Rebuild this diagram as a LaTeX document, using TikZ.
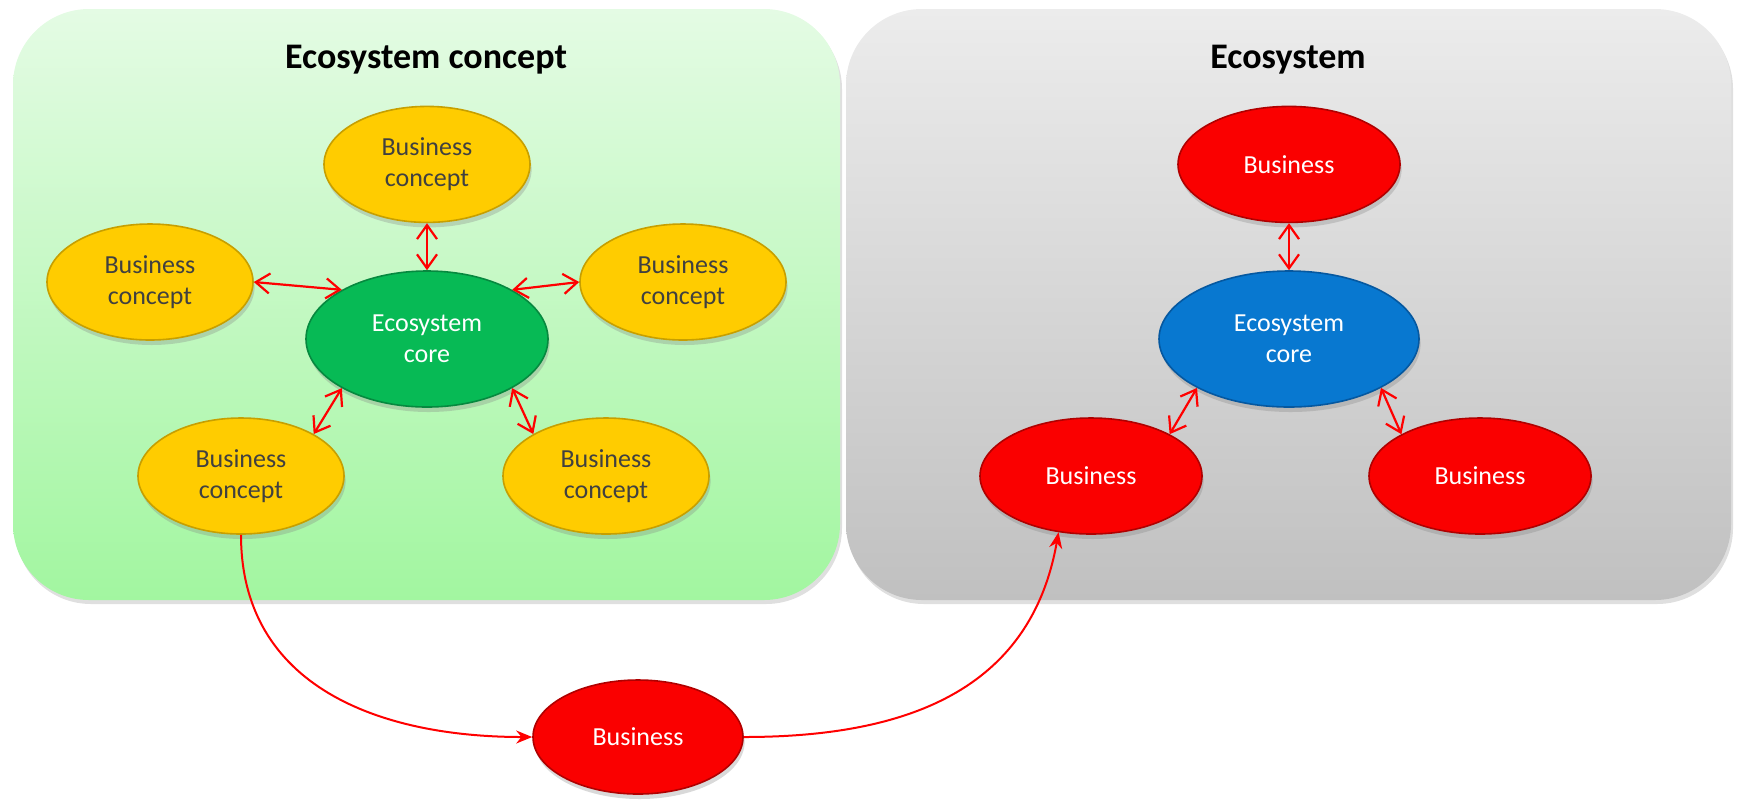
\documentclass[tikz,border=0pt]{standalone}
\usepackage{fontspec}
\setmainfont{Carlito}
\usetikzlibrary{arrows.meta,shapes.geometric,positioning,shadows}
\definecolor{bcyellow}{HTML}{FFCC00}
\definecolor{bcedge}{HTML}{C79F00}
\definecolor{bctext}{HTML}{404040}
\definecolor{bizred}{HTML}{FA0000}
\definecolor{bizedge}{HTML}{B00000}
\definecolor{coregreen}{HTML}{07BA55}
\definecolor{greenedge}{HTML}{06893F}
\definecolor{coreblue}{HTML}{0878D0}
\definecolor{blueedge}{HTML}{0558A0}
\definecolor{arrowred}{HTML}{FF0000}
\definecolor{greentop}{HTML}{E4FBE4}
\definecolor{greenbottom}{HTML}{A2F6A0}
\definecolor{graytop}{HTML}{ECECEC}
\definecolor{graybottom}{HTML}{C0C0C0}
\tikzset{
  panel/.style n args={2}{
  top color=#1,
  bottom color=#2,
  rounded corners=38pt,
  drop shadow={shadow xshift=1pt,shadow yshift=-2pt,opacity=0.25},
  },
  title/.style={font=\fontsize{18}{22}\selectfont\bfseries},
  oval/.style={
  ellipse,
  inner sep=0pt,
  align=center,
  line width=0.8pt,
  font=\fontsize{13}{15.7}\selectfont,
  drop shadow={shadow xshift=0.8pt,shadow yshift=-2.5pt,opacity=0.3},
  },
  concept/.style={oval, fill=bcyellow, draw=bcedge, text=bctext,
  minimum width=103pt, minimum height=58pt},
  business/.style={oval, fill=bizred, draw=bizedge, text=white,
  minimum width=111pt, minimum height=58pt},
  core/.style={oval, text=white, minimum height=68pt},
  link/.style={{Straight Barb[length=7pt,width=10pt]}-{Straight Barb[length=7pt,width=10pt]},
  draw=arrowred, line width=1.1pt},
  flow/.style={-{Stealth[length=8pt,width=6.5pt]}, draw=arrowred, line width=1pt},
}

\begin{document}
\begin{tikzpicture}[x=0.5pt,y=-0.5pt]
\useasboundingbox (0,0) rectangle (1739,800);

% the two panels
\path[panel={greentop}{greenbottom}] (13,9) rectangle (840,600);
\path[panel={graytop}{graybottom}] (846,9) rectangle (1731,600);
\node[title] (t1) at (426,60) {Ecosystem concept};
\node[title] (t2) at (1288,60) {Ecosystem};

% ecosystem concept
\node[core, fill=coregreen, draw=greenedge, minimum width=121pt] (cc) at (427,339) {Ecosystem\\core};
\node[concept, above=23.5pt of cc] (c1) {Business\\concept};
\node[concept] (c2) at (150,282) {Business\\concept};
\node[concept] (c3) at (683,282) {Business\\concept};
\node[concept] (c4) at (241,476) {Business\\concept};
\node[concept] (c5) at (606,476) {Business\\concept};

% ecosystem
\node[core, fill=coreblue, draw=blueedge, minimum width=130pt] (ec) at (1289,339) {Ecosystem\\core};
\node[business, above=23.5pt of ec] (b1) {Business};
\node[business] (b2) at (1091,476) {Business};
\node[business] (b3) at (1480,476) {Business};

% the business in between
\node[business, minimum width=105pt, minimum height=57pt] (bm) at (638,737) {Business};

% links to the cores
\draw[link] (c1.south) -- (cc.north);
\draw[link] (c2.east) -- (cc.150);
\draw[link] (cc.30) -- (c3.west);
\draw[link] (cc.210) -- (c4.30);
\draw[link] (cc.330) -- (c5.150);

\draw[link] (b1.south) -- (ec.north);
\draw[link] (ec.208) -- (b2.28);
\draw[link] (ec.332) -- (b3.152);

% from concept to business
\draw[flow] (c4.south) to[out=-90,in=180,looseness=1.1] (bm.west);
\draw[flow] (bm.east) to[out=0,in=-100,looseness=1.1] (b2.240);

\end{tikzpicture}
\end{document}
